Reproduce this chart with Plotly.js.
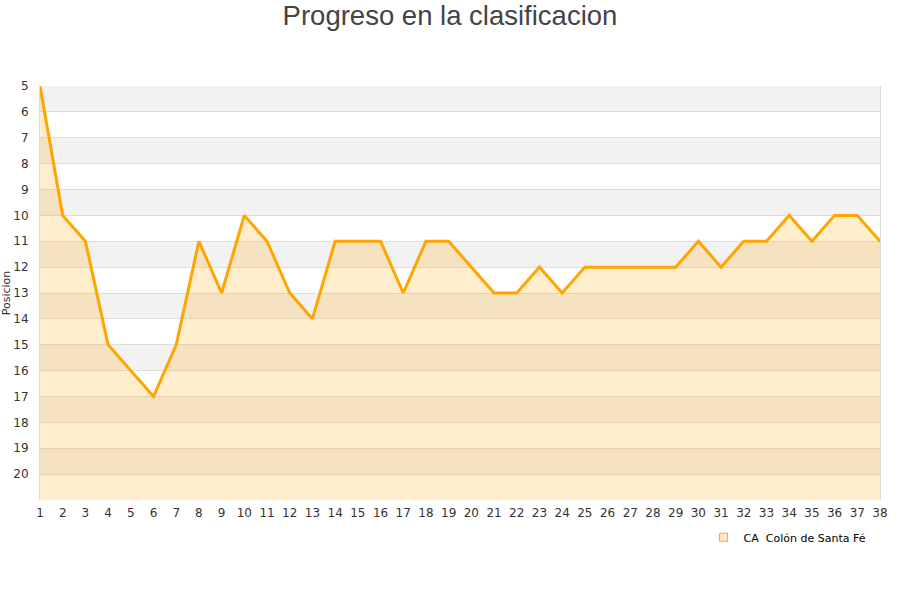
<!DOCTYPE html>
<html><head><meta charset="utf-8">
<script src="https://cdn.plot.ly/plotly-3.0.1.min.js"></script>
<style>body{margin:0}#c{width:900px;height:600px}</style>
</head><body><div id="c"></div>
<script>
const jornadas = [1,2,3,4,5,6,7,8,9,10,11,12,13,14,15,16,17,18,19,20,21,22,23,24,25,26,27,28,29,30,31,32,33,34,35,36,37,38];
const posiciones = [5,10,11,15,16,17,15,11,13,10,11,13,14,11,11,11,13,11,11,12,13,13,12,13,12,12,12,12,12,11,12,11,11,10,11,10,10,11];
const equipo = "CA  Colón de Santa Fé";
const yTicks = [5,6,7,8,9,10,11,12,13,14,15,16,17,18,19,20];
const yMin = 5, yMax = 21;

const shapes = [];
for (let v = yMin; v < yMax; v++) {
  if ((v - yMin) % 2 === 0) {
    shapes.push({type:'rect', xref:'paper', yref:'y', x0:0, x1:1, y0:v, y1:v+1,
      fillcolor:'#f2f2f2', line:{width:0}, layer:'below'});
  }
}

const base = {x: jornadas, y: jornadas.map(() => yMax), mode:'lines',
  line:{width:0, color:'rgba(0,0,0,0)'}, hoverinfo:'skip', showlegend:false};
const serie = {x: jornadas, y: posiciones, mode:'lines', name: equipo,
  fill:'tonexty', fillcolor:'rgba(255,165,0,0.2)', showlegend:false,
  line:{color:'#ffa500', width:3}};
const leyenda = {x:[null], y:[null], mode:'markers', name: equipo,
  marker:{symbol:'square', size:8, color:'rgba(255,165,0,0.2)', line:{color:'#ffa500', width:1}}};

const tf = {family:'DejaVu Sans, Verdana, sans-serif', size:12, color:'#333'};
const layout = {
  width:900, height:600,
  paper_bgcolor:'#fff', plot_bgcolor:'#fff',
  margin:{l:40, r:20, t:86, b:100},
  title:{text:'Progreso en la clasificacion', x:0.5, xanchor:'center', y:0.99, yanchor:'top',
    font:{family:'Liberation Sans, Arial, sans-serif', size:27.5, color:'#444'}},
  xaxis:{range:[1,38], tickvals:jornadas, ticktext:jornadas.map(String), showgrid:false,
    zeroline:false, showline:false, ticks:'', ticklabelstandoff:4, tickfont:tf},
  yaxis:{range:[yMax, yMin], tickvals:yTicks, ticktext:yTicks.map(String),
    showgrid:true, gridcolor:'#dddddd', gridwidth:1, zeroline:false,
    showline:true, linecolor:'#dddddd', mirror:true, ticks:'', ticklabelstandoff:8,
    tickfont:tf,
    title:{text:'Posicion', standoff:4, font:{family:'DejaVu Sans, Verdana, sans-serif', size:11, color:'#333'}}},
  shapes: shapes,
  showlegend:true,
  legend:{x:0.99, xanchor:'right', y:-0.055, yanchor:'top', orientation:'h',
    font:{family:'DejaVu Sans, Verdana, sans-serif', size:11, color:'#000'}, bgcolor:'rgba(0,0,0,0)'}
};
Plotly.newPlot('c', [base, serie, leyenda], layout, {displayModeBar:false, staticPlot:true});
</script></body></html>
